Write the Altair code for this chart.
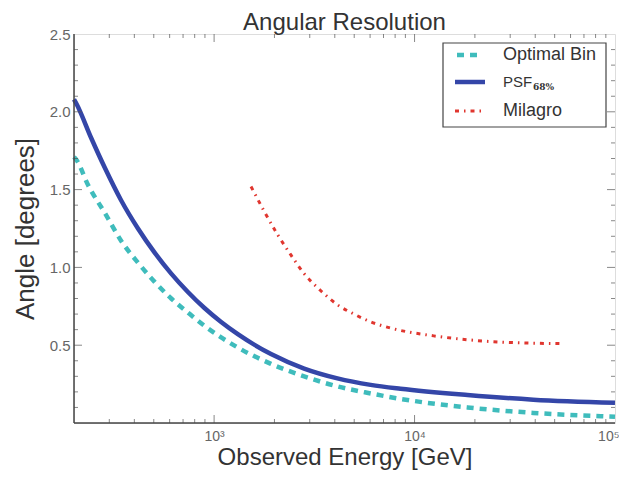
import altair as alt
import pandas as pd

# ---- data ----
optimal_energy = [200, 206, 235, 285, 344, 417, 505, 611, 740, 895, 1084, 1313, 1922, 2813,
                  4124, 6040, 8510, 18360, 39100, 100000]
optimal_angle = [1.71, 1.69, 1.53, 1.35, 1.17, 1.03, 0.907, 0.80, 0.71, 0.625, 0.55, 0.485, 0.38, 0.30,
                 0.235, 0.19, 0.155, 0.10, 0.065, 0.04]

psf_energy = [200, 206, 244, 285, 344, 417, 505, 611, 740, 895, 1084, 1313, 1922, 2813,
              4124, 6040, 8510, 18360, 39100, 100000]
psf_angle = [2.08, 2.05, 1.83, 1.64, 1.43, 1.25, 1.095, 0.96, 0.842, 0.739, 0.649, 0.571, 0.443, 0.35,
             0.287, 0.245, 0.22, 0.18, 0.15, 0.13]

milagro_energy = [1528, 1779, 2076, 2416, 2813, 3406, 4124, 4989, 6040, 7600, 12450, 18360, 26800, 55100]
milagro_angle = [1.52, 1.36, 1.21, 1.08, 0.96, 0.85, 0.76, 0.70, 0.65, 0.61, 0.56, 0.535, 0.52, 0.51]

x_major_ticks = [1000, 10000]
x_minor_ticks = [300, 400, 500, 600, 700, 800, 900,
                 2000, 3000, 4000, 5000, 6000, 7000, 8000, 9000,
                 20000, 30000, 40000, 50000, 60000, 70000, 80000, 90000]
y_major_ticks = [0.5, 1.0, 1.5, 2.0]
y_minor_ticks = [0.1, 0.2, 0.3, 0.4, 0.6, 0.7, 0.8, 0.9, 1.1, 1.2, 1.3, 1.4,
                 1.6, 1.7, 1.8, 1.9, 2.1, 2.2, 2.3, 2.4]

legend_labels = ["Optimal Bin", "PSF", "Milagro"]
psf_subscript = "68%"

W, H = 541, 389
FONT = "Liberation Sans"
TEAL = "#3fbcbc"
BLUE = "#3446a8"
RED = "#e0362f"
AXC = "#555555"

x_scale = alt.Scale(type="log", domain=[200, 100000], nice=False)
y_scale = alt.Scale(domain=[0, 2.5], nice=False, zero=False)

x_enc = alt.X(
    "E:Q", scale=x_scale,
    axis=alt.Axis(
        values=[1000, 10000, 100000],
        labelExpr="datum.value == 1000 ? '10³' : datum.value == 10000 ? '10⁴' : '10⁵'",
        ticks=False, domain=False, grid=False,
        labelFont=FONT, labelFontSize=14, labelColor="#666", labelPadding=6,
        labelFlush=1, labelFlushOffset=4,
        title="Observed Energy [GeV]", titleFont=FONT, titleFontSize=24,
        titleFontWeight="normal", titleColor="#333", titlePadding=2,
    ),
)
y_enc = alt.Y(
    "A:Q", scale=y_scale,
    axis=alt.Axis(
        values=[0.5, 1.0, 1.5, 2.0, 2.5], format=".1f",
        ticks=False, domain=False, grid=False,
        labelFont=FONT, labelFontSize=15, labelColor="#666", labelPadding=4,
        labelFlush=False,
        title="Angle [degrees]", titleFont=FONT, titleFontSize=26,
        titleFontWeight="normal", titleColor="#333", titlePadding=11,
    ),
)

df_opt = pd.DataFrame({"E": optimal_energy, "A": optimal_angle})
df_psf = pd.DataFrame({"E": psf_energy, "A": psf_angle})
df_mil = pd.DataFrame({"E": milagro_energy, "A": milagro_angle})

opt_line = alt.Chart(df_opt).mark_line(
    color=TEAL, strokeWidth=4.5, strokeDash=[7, 6], interpolate="monotone"
).encode(x=x_enc, y=y_enc)
psf_line = alt.Chart(df_psf).mark_line(
    color=BLUE, strokeWidth=4.5, interpolate="monotone"
).encode(x=x_enc, y=y_enc)
mil_line = alt.Chart(df_mil).mark_line(
    color=RED, strokeWidth=3, strokeDash=[4, 5, 1.5, 5], interpolate="monotone"
).encode(x=x_enc, y=y_enc)

# inward axis ticks on all four sides
dxM = pd.DataFrame({"E": x_major_ticks})
dxm = pd.DataFrame({"E": x_minor_ticks})
dyM = pd.DataFrame({"A": y_major_ticks})
dym = pd.DataFrame({"A": y_minor_ticks})

def xticks(df, size, top):
    return alt.Chart(df).mark_tick(size=size, thickness=1, color=AXC, orient="vertical").encode(
        x=x_enc, y=alt.value(size / 2 if top else H - size / 2))

def yticks(df, size, right):
    return alt.Chart(df).mark_tick(size=size, thickness=1, color=AXC, orient="horizontal").encode(
        y=y_enc, x=alt.value(W - size / 2 if right else size / 2))

tick_layers = [
    xticks(dxM, 8, False), xticks(dxm, 4, False), xticks(dxM, 8, True), xticks(dxm, 4, True),
    yticks(dyM, 8, False), yticks(dym, 4, False), yticks(dyM, 8, True), yticks(dym, 4, True),
]

# axis box lines (left and bottom darker)
one = pd.DataFrame({"k": [0]})
left_line = alt.Chart(one).mark_rule(color="#444", strokeWidth=1.5).encode(
    x=alt.value(0), y=alt.value(0), y2=alt.value(H))
bottom_line = alt.Chart(one).mark_rule(color="#444", strokeWidth=1.5).encode(
    x=alt.value(0), x2=alt.value(W), y=alt.value(H))

# legend
leg_box = alt.Chart(one).mark_rect(fill="white", stroke="#444", strokeWidth=1.2).encode(
    x=alt.value(369), x2=alt.value(532), y=alt.value(9), y2=alt.value(93))
leg_opt = alt.Chart(one).mark_rule(color=TEAL, strokeWidth=4.5, strokeDash=[7, 6]).encode(
    x=alt.value(383), x2=alt.value(407), y=alt.value(21))
leg_psf = alt.Chart(one).mark_rule(color=BLUE, strokeWidth=4.5).encode(
    x=alt.value(381), x2=alt.value(411), y=alt.value(48))
leg_mil = alt.Chart(one).mark_rule(color=RED, strokeWidth=3, strokeDash=[4, 5, 1.5, 5]).encode(
    x=alt.value(381), x2=alt.value(411), y=alt.value(77))

def leg_text(txt, x, y, size, font=FONT, weight="normal"):
    return alt.Chart(one).mark_text(
        text=txt, align="left", baseline="middle", font=font, fontSize=size,
        fontWeight=weight, color="#333"
    ).encode(x=alt.value(x), y=alt.value(y))

leg_texts = [
    leg_text(legend_labels[0], 429, 21, 18),
    leg_text(legend_labels[1], 429, 48, 15),
    leg_text(psf_subscript, 459, 53, 9, font="DejaVu Serif", weight="bold"),
    leg_text(legend_labels[2], 429, 77, 18),
]

chart = alt.layer(
    opt_line, psf_line, mil_line, *tick_layers, left_line, bottom_line,
    leg_box, leg_opt, leg_psf, leg_mil, *leg_texts
).properties(
    width=W, height=H,
    title=alt.TitleParams("Angular Resolution", font=FONT, fontSize=24,
                          fontWeight="normal", color="#333", offset=-8, anchor="middle"),
    autosize=alt.AutoSizeParams(type="none"),
    padding={"left": 66, "top": 26, "right": 4, "bottom": 50},
).configure_view(stroke="#888", strokeWidth=1).configure(background="white")

chart.save("out.html", embed_options={"renderer": "svg", "actions": False})
